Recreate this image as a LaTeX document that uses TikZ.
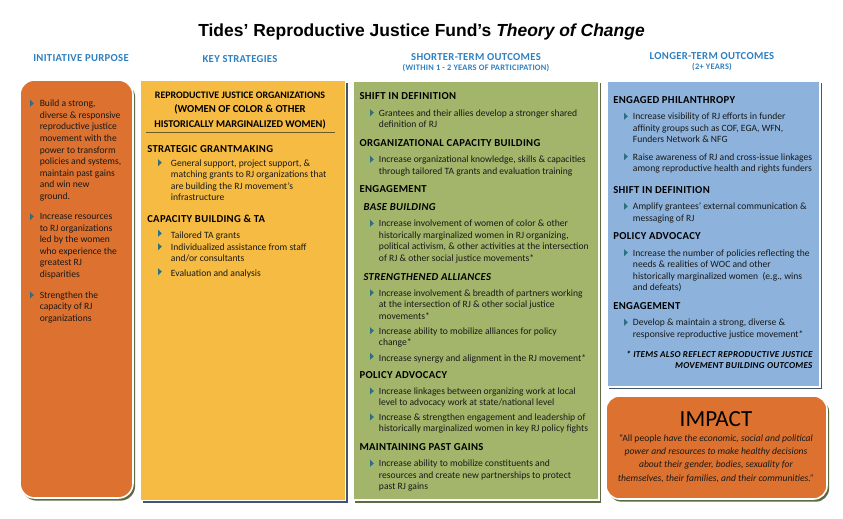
\documentclass[tikz,border=0pt]{standalone}
\usepackage{fontspec}
\setmainfont{Carlito}
\newfontfamily\titlefont{Liberation Sans}
\newfontfamily\headfont[LetterSpace=3]{Carlito}
\usetikzlibrary{positioning, shadows}

\definecolor{orangefill}{HTML}{DD7230}
\definecolor{yellowfill}{HTML}{F6BB43}
\definecolor{greenfill}{HTML}{A3B56B}
\definecolor{bluefill}{HTML}{8DB3DC}
\definecolor{headblue}{HTML}{2E7FC0}
\definecolor{tipteal}{HTML}{2B6F80}
\definecolor{oliveedge}{HTML}{5E6B42}
\definecolor{navyedge}{HTML}{3F5570}
\definecolor{ruleline}{HTML}{6B5B2A}

\tikzset{
  panel/.style={draw=white, line width=1.2pt, fill=#1},
  oliveshadow/.style={general shadow={fill=oliveedge, shadow xshift=1.6pt, shadow yshift=-2pt}},
  navyshadow/.style={general shadow={fill=navyedge, shadow xshift=1.6pt, shadow yshift=-2pt}},
  body/.style={anchor=north west, inner sep=0pt, yshift=-1.5pt, align=left, text=black!90,
    font=\fontsize{7.2}{8.7}\selectfont, execute at begin node=\strut},
  heading/.style={anchor=base west, inner sep=0pt, yshift=-1pt, font=\headfont\bfseries\fontsize{8}{9}\selectfont},
  subheading/.style={heading, font=\headfont\bfseries\itshape\fontsize{8}{9}\selectfont},
  colhead/.style={anchor=base, inner sep=0pt, yshift=-0.4pt, text=headblue, font=\headfont\bfseries\fontsize{8}{9}\selectfont},
  colsub/.style={anchor=base, inner sep=0pt, text=headblue, font=\headfont\bfseries\fontsize{6.3}{7}\selectfont},
  tip/.pic={\fill[tipteal] (-2,-3.6) -- (1.8,0) -- (-2,3.6) -- cycle;}
}

\begin{document}
\begin{tikzpicture}[x=0.75pt, y=-0.75pt]
    \useasboundingbox (0,0) rectangle (843,518);

    % title
    \node[anchor=base, inner sep=0pt, font=\titlefont\bfseries\fontsize{13.1}{17}\selectfont] (title) at (421.5,36.5)
      {Tides’ Reproductive Justice Fund’s \textit{Theory of Change}};

    % column heads
    \node[colhead] (purposehead) at (81,61) {INITIATIVE PURPOSE};
    \node[colhead] (strategyhead) at (240,62) {KEY STRATEGIES};
    \node[colhead] (shorthead) at (476,60) {SHORTER-TERM OUTCOMES};
    \node[colsub] (shortsub) at (476,70.5) {(WITHIN 1 - 2 YEARS OF PARTICIPATION)};
    \node[colhead] (longhead) at (712,58.5) {LONGER-TERM OUTCOMES};
    \node[colsub] (longsub) at (712,69) {(2+ YEARS)};

    % panels
    \draw[panel=orangefill, oliveshadow, rounded corners=11pt] (20,80) rectangle (133,498);
    \draw[panel=yellowfill, navyshadow] (140.5,80.5) rectangle (345.5,500.5);
    \draw[panel=greenfill, oliveshadow] (352.7,80.7) rectangle (598.7,500);
    \draw[panel=bluefill, navyshadow] (606.7,80.7) rectangle (820,386.7);
    \draw[panel=orangefill, oliveshadow, rounded corners=10pt] (606,396) rectangle (827,499);

    % initiative purpose
    \foreach \y in {103.3,216.7,295} \pic at (32,\y) {tip};
    \node[body] (purposea) at (39.5,97.7) {Build a strong,\\diverse \& responsive\\reproductive justice\\movement with the\\power to transform\\policies and systems,\\maintain past gains\\and win new\\ground.};
    \node[body] (purposeb) at (39.5,211.1) {Increase resources\\to RJ organizations\\led by the women\\who experience the\\greatest RJ\\disparities};
    \node[body] (purposec) at (39.5,289.4) {Strengthen the\\capacity of RJ\\organizations};

    % key strategies
    \node[anchor=base, inner sep=0pt, font=\bfseries\fontsize{7.45}{9}\selectfont] (orgsa) at (240,98.5) {REPRODUCTIVE JUSTICE ORGANIZATIONS};
    \node[anchor=base, inner sep=0pt, font=\bfseries\fontsize{8}{9}\selectfont] (orgsb) at (240,112) {(WOMEN OF COLOR \& OTHER};
    \node[anchor=base, inner sep=0pt, font=\bfseries\fontsize{7.75}{9}\selectfont] (orgsc) at (240,127) {HISTORICALLY MARGINALIZED WOMEN)};
    \draw[ruleline, line width=0.5pt] (146,132.3) -- (335,132.3);
    \node[heading] (grantmaking) at (147,151) {STRATEGIC GRANTMAKING};
    \pic at (160,162.7) {tip};
    \node[body] (grantlist) at (170.7,157.1) {General support, project support, \&\\matching grants to RJ organizations that\\are building the RJ movement’s\\infrastructure};
    \node[heading] (capacity) at (147,221.3) {CAPACITY BUILDING \& TA};
    \foreach \y in {233.3,246.7,271.7} \pic at (160,\y) {tip};
    \node[body] (capa) at (170.7,227.7) {Tailored TA grants};
    \node[body] (capb) at (170.7,241.1) {Individualized assistance from staff\\and/or consultants};
    \node[body] (capc) at (170.7,266.1) {Evaluation and analysis};

    % shorter-term outcomes
    \foreach \y in {112.7,159.3,223.3,292.7,330.7,356.3,391,417,463.3} \pic at (372,\y) {tip};
    \node[heading] (shifta) at (359.3,98.3) {SHIFT IN DEFINITION};
    \node[body] (shiftlista) at (378.7,107.1) {Grantees and their allies develop a stronger shared\\definition of RJ};
    \node[heading] (orgcap) at (359.3,144.7) {ORGANIZATIONAL CAPACITY BUILDING};
    \node[body] (orgcaplist) at (378.7,153.7) {Increase organizational knowledge, skills \& capacities\\through tailored TA grants and evaluation training};
    \node[heading] (engagea) at (359.3,191.3) {ENGAGEMENT};
    \node[subheading] (basebuild) at (363.3,208.7) {BASE BUILDING};
    \node[body] (baselist) at (378.7,217.7) {Increase involvement of women of color \& other\\historically marginalized women in RJ organizing,\\political activism, \& other activities at the intersection\\of RJ \& other social justice movements*};
    \node[subheading] (alliances) at (363.3,278.7) {STRENGTHENED ALLIANCES};
    \node[body] (allya) at (378.7,287.1) {Increase involvement \& breadth of partners working\\at the intersection of RJ \& other social justice\\movements*};
    \node[body] (allyb) at (378.7,325.1) {Increase ability to mobilize alliances for policy\\change*};
    \node[body] (allyc) at (378.7,350.7) {Increase synergy and alignment in the RJ movement*};
    \node[heading] (policya) at (359.3,376.7) {POLICY ADVOCACY};
    \node[body] (policyla) at (378.7,385.4) {Increase linkages between organizing work at local\\level to advocacy work at state/national level};
    \node[body] (policylb) at (378.7,411.4) {Increase \& strengthen engagement and leadership of\\historically marginalized women in key RJ policy fights};
    \node[heading] (maintain) at (359.3,448.7) {MAINTAINING PAST GAINS};
    \node[body] (maintainlist) at (378.7,457.7) {Increase ability to mobilize constituents and\\resources and create new partnerships to protect\\past RJ gains};

    % longer-term outcomes
    \foreach \y in {116.3,156.7,206.3,252.7,322.3} \pic at (626,\y) {tip};
    \node[heading] (philanthropy) at (613,101.7) {ENGAGED PHILANTHROPY};
    \node[body] (philla) at (632.7,110.7) {Increase visibility of RJ efforts in funder\\affinity groups such as COF, EGA, WFN,\\Funders Network \& NFG};
    \node[body] (phillb) at (632.7,151.1) {Raise awareness of RJ and cross-issue linkages\\among reproductive health and rights funders};
    \node[heading] (shiftb) at (613,191.7) {SHIFT IN DEFINITION};
    \node[body] (shiftlistb) at (632.7,200.7) {Amplify grantees’ external communication \&\\messaging of RJ};
    \node[heading] (policyb) at (613,238) {POLICY ADVOCACY};
    \node[body] (policylc) at (632.7,247.1) {Increase the number of policies reflecting the\\needs \& realities of WOC and other\\historically marginalized women\ \ (e.g., wins\\and defeats)};
    \node[heading] (engageb) at (613,307.7) {ENGAGEMENT};
    \node[body] (engagelist) at (632.7,316.7) {Develop \& maintain a strong, diverse \&\\responsive reproductive justice movement*};
    \node[anchor=north east, inner sep=0pt, align=right, font=\headfont\bfseries\itshape\fontsize{6.8}{8}\selectfont, execute at begin node=\strut] (note) at (812.7,351.1)
      {* ITEMS ALSO REFLECT REPRODUCTIVE JUSTICE\\MOVEMENT BUILDING OUTCOMES};

    % impact
    \node[anchor=base, inner sep=0pt, font=\fontsize{17.3}{24}\selectfont] (impact) at (716,426) {IMPACT};
    \node[anchor=north, inner sep=0pt, align=center, text=black!90, font=\fontsize{7.2}{10}\selectfont, execute at begin node=\strut] (quote) at (716,434)
      {“All people \textit{have the economic, social and political}\\\textit{power and resources to make healthy decisions}\\\textit{about their gender, bodies, sexuality for}\\\textit{themselves, their families, and their communities.”}};
  \end{tikzpicture}
\end{document}
